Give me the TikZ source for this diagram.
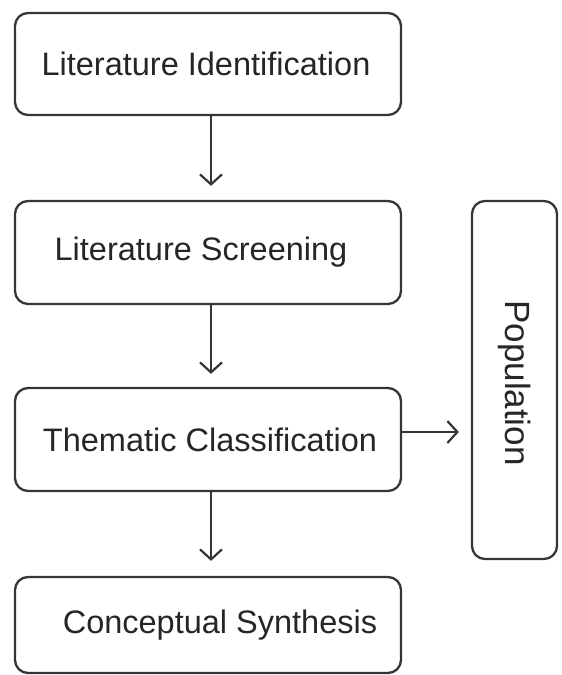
\documentclass[tikz,border=0pt]{standalone}
\usepackage{fontspec}
\setmainfont{Liberation Sans}
\usetikzlibrary{arrows.meta}
\definecolor{linec}{HTML}{353535}
\definecolor{textc}{HTML}{262626}
\tikzset{
  stepbox/.style={draw=linec, line width=2.3pt, rounded corners=13pt, fill=white,
    minimum width=386pt, inner sep=0pt, text=textc,
    font=\fontsize{32.5}{36}\selectfont},
  popbox/.style={draw=linec, line width=2.3pt, rounded corners=13pt, fill=white,
    minimum width=85pt, minimum height=358pt, inner sep=0pt},
  flow/.style={draw=linec, line width=2.2pt, -{Straight Barb[length=10pt,width=22pt,line width=2.2pt]}}
}
\begin{document}
\begin{tikzpicture}[x=1pt,y=-1pt]
\useasboundingbox (0,0) rectangle (562,675);
\node[stepbox, minimum height=102pt] (b1) at (208,64) {Literature Identification\hspace*{4pt}};
\node[stepbox, minimum height=103pt] (b2) at (208,252.5) {Literature Screening\hspace*{14pt}};
\node[stepbox, minimum height=103pt] (b3) at (208,439.5) {\hspace*{4pt}Thematic Classification};
\node[stepbox, minimum height=96pt] (b4) at (208,625) {\hspace*{24pt}Conceptual Synthesis};
\node[popbox] (pop) at (514.5,380) {};
\node[rotate=-90, text=textc, font=\fontsize{35}{38}\selectfont] (poplabel) at ([yshift=-3pt]pop.center) {Population};
\draw[flow, shorten >=14pt] ([xshift=3pt]b1.south) -- ([xshift=3pt]b1.south |- b2.north);
\draw[flow, shorten >=13pt] ([xshift=3pt]b2.south) -- ([xshift=3pt]b2.south |- b3.north);
\draw[flow, shorten >=15pt] ([xshift=3pt]b3.south) -- ([xshift=3pt]b3.south |- b4.north);
\draw[flow, shorten >=12pt] ([yshift=7.5pt]b3.east) -- ([yshift=7.5pt]b3.east -| pop.west);
\end{tikzpicture}
\end{document}
